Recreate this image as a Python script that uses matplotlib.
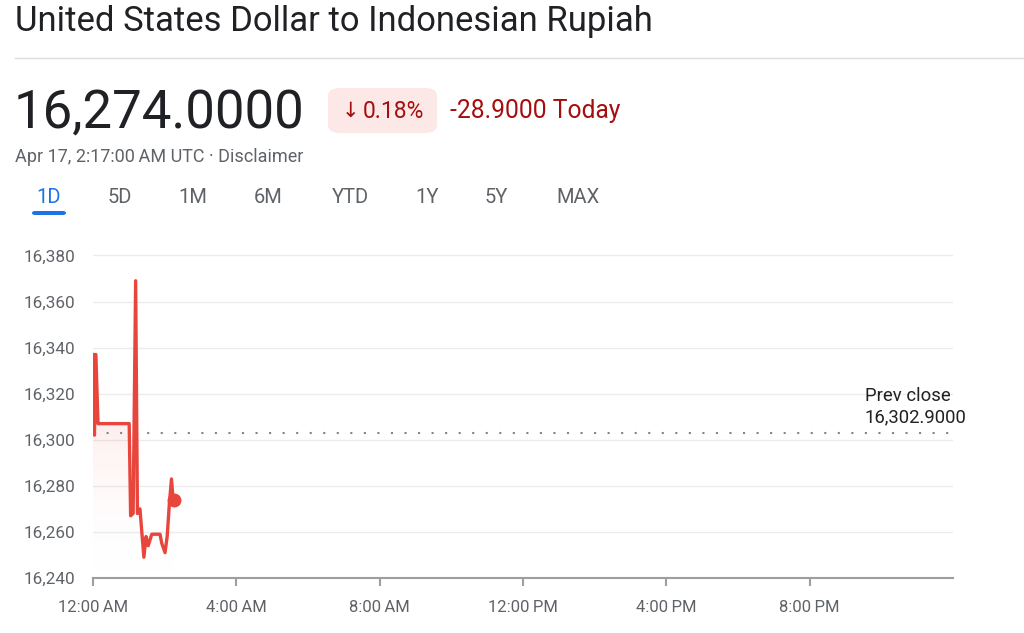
import numpy as np
import matplotlib
matplotlib.use("Agg")
import matplotlib.pyplot as plt
from matplotlib.patches import FancyBboxPatch, Polygon
from matplotlib.colors import LinearSegmentedColormap

plt.rcParams['font.family'] = ['Roboto', 'DejaVu Sans']

# ---- data (hours since midnight UTC, price) ----
hours = [0.00, 0.04, 0.08, 0.14, 1.01, 1.05, 1.12, 1.19, 1.24, 1.31, 1.42, 1.48,
         1.54, 1.64, 1.87, 1.92, 2.01, 2.07, 2.13, 2.19, 2.24, 2.26]
prices = [16337, 16302, 16337, 16307, 16307, 16267, 16268, 16369, 16268, 16270,
          16249, 16258, 16254, 16259, 16259, 16255, 16251, 16258, 16272, 16283,
          16273, 16274]
prev_close = 16302.9
y_ticks = [16240, 16260, 16280, 16300, 16320, 16340, 16360, 16380]
x_ticks = [0, 4, 8, 12, 16, 20]
x_labels = ["12:00\u202fAM", "4:00\u202fAM", "8:00\u202fAM", "12:00\u202fPM", "4:00\u202fPM", "8:00\u202fPM"]
tabs = ["1D", "5D", "1M", "6M", "YTD", "1Y", "5Y", "MAX"]
tab_x = [49, 120, 193, 268, 350, 427, 496, 578]

W, H = 1024, 633
fig = plt.figure(figsize=(W / 100, H / 100), dpi=100)
fig.patch.set_facecolor('white')

def fx(px):
    return px / W

def fy(py):
    return 1 - py / H

grey = '#5f6368'
red_line = '#e8453c'
dark_red = '#a50e0e'

# ---- header ----
fig.text(fx(15), fy(22), "United States Dollar to Indonesian Rupiah", fontsize=24.9,
         color='#202124', va='center', ha='left')
fig.add_artist(plt.Line2D([fx(15), 1], [fy(58), fy(58)], color='#dadce0', lw=1))
fig.text(fx(14), fy(113), "16,274.0000", fontsize=38, color='#202124', va='center', ha='left')

badge = FancyBboxPatch((fx(328), fy(133)), fx(437) - fx(328), fy(88) - fy(133),
                       boxstyle="round,pad=0,rounding_size=0.012",
                       transform=fig.transFigure, facecolor='#fce8e6', edgecolor='none')
fig.add_artist(badge)
fig.text(fx(342), fy(111), "\u2193", fontsize=15, color=dark_red,
         va='center', ha='left', family=['DejaVu Sans'])
fig.text(fx(363), fy(111), "0.18%", fontsize=16.5, color=dark_red,
         va='center', ha='left')
fig.text(fx(450), fy(111), "-28.9000 Today", fontsize=17.7, color=dark_red, va='center', ha='left')
fig.text(fx(15), fy(157), "Apr 17, 2:17:00\u202fAM UTC \u00b7 Disclaimer", fontsize=13,
         color=grey, va='center', ha='left')

for t, x in zip(tabs, tab_x):
    fig.text(fx(x), fy(197), t, fontsize=14.5, color='#1a73e8' if t == "1D" else grey,
             va='center', ha='center')
ub = FancyBboxPatch((fx(32), fy(215)), fx(66) - fx(32), fy(211) - fy(215),
                    boxstyle="round,pad=0,rounding_size=0.003",
                    transform=fig.transFigure, facecolor='#1a73e8', edgecolor='none')
fig.add_artist(ub)

# ---- chart ----
ax = fig.add_axes([fx(93), fy(578), fx(953) - fx(93), fy(237) - fy(578)])
ax.set_xlim(0, 24)
ax.set_ylim(16240, 16388)
for s in ['top', 'right', 'left']:
    ax.spines[s].set_visible(False)
ax.spines['bottom'].set_color('#9e9e9e')
ax.spines['bottom'].set_linewidth(1.5)

ax.set_yticks(y_ticks)
ax.set_yticklabels([f"{v:,}" for v in y_ticks])
ax.tick_params(axis='y', length=0, pad=13, labelsize=12.3, labelcolor=grey)
ax.set_xticks(x_ticks)
ax.set_xticklabels(x_labels)
ax.tick_params(axis='x', length=6, width=1.5, color='#9e9e9e', pad=10, labelsize=12,
               labelcolor=grey)
ax.grid(axis='y', color='#ececec', lw=1)
ax.set_axisbelow(True)

# gradient fill under the line
poly_xy = [(hours[0], 16240)] + list(zip(hours, prices)) + [(hours[-1], 16240)]
poly = Polygon(poly_xy, closed=True, facecolor='none', edgecolor='none', transform=ax.transData)
ax.add_patch(poly)
grad = np.linspace(1, 0, 256).reshape(-1, 1)
cmap = LinearSegmentedColormap.from_list('g', [(1, 1, 1, 0), (0.93, 0.27, 0.24, 0.10)])
im = ax.imshow(grad, cmap=cmap, aspect='auto', extent=[0, 24, 16240, 16310],
               origin='upper', zorder=1)
im.set_clip_path(poly)
ax.set_ylim(16240, 16388)
ax.set_xlim(0, 24)

ax.axhline(prev_close, color='#80868b', lw=1.5, ls=(0, (1, 5.5)), zorder=2)
ax.plot(hours, prices, color=red_line, lw=2.4, zorder=3, solid_joinstyle='round')
ax.plot(hours[-1], prices[-1], 'o', color=red_line, ms=9, zorder=4)

ax.text(fx(865), fy(396), "Prev close", transform=fig.transFigure, fontsize=13.3,
        color='#202124', va='center', ha='left', clip_on=False)
ax.text(fx(865), fy(417), "16,302.9000", transform=fig.transFigure, fontsize=13.3,
        color='#202124', va='center', ha='left', clip_on=False)

fig.savefig("out.png", dpi=100, facecolor='white')
